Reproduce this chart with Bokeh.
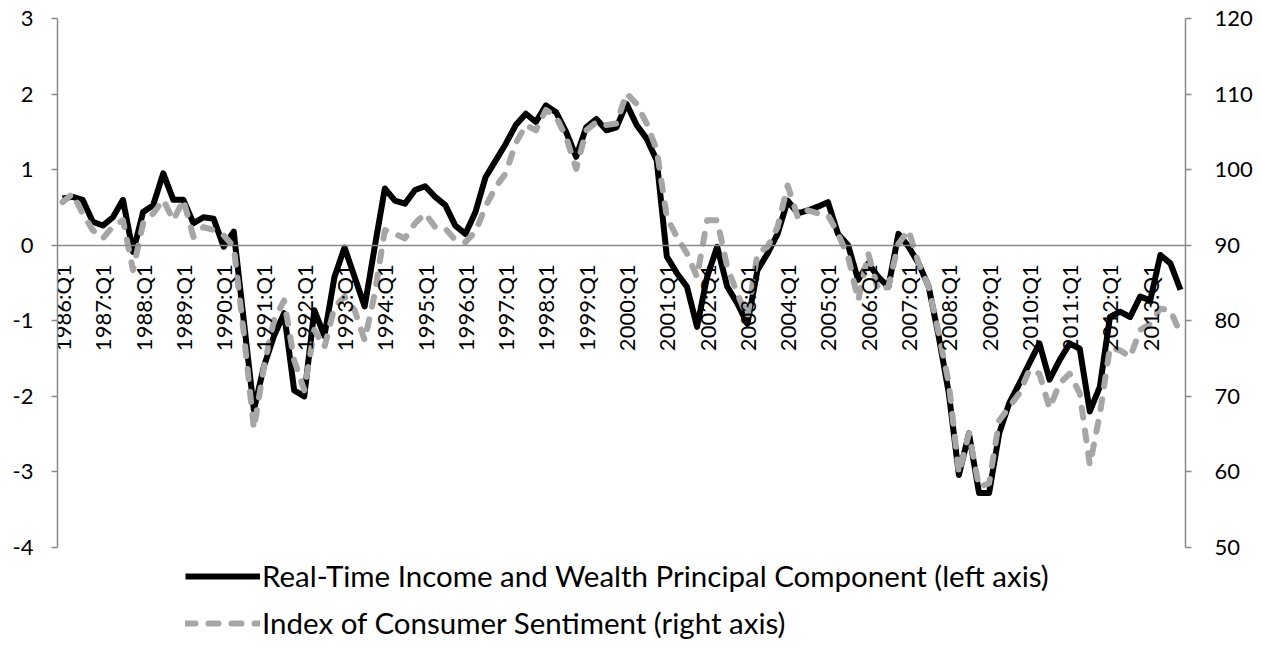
from math import pi
from bokeh.plotting import figure
from bokeh.models import Range1d, LinearAxis, FixedTicker, Legend, LegendItem
from bokeh.embed import file_html
from bokeh.resources import INLINE

years = list(range(1986, 2014))
quarters = [f"{y}:Q{q}" for y in years for q in range(1, 5)]

income_wealth_pc = [
    0.62, 0.64, 0.60, 0.31, 0.26, 0.37, 0.60, -0.09,
    0.44, 0.53, 0.95, 0.60, 0.60, 0.29, 0.37, 0.35,
    -0.02, 0.18, -1.00, -2.18, -1.60, -1.20, -0.90, -1.92,
    -2.00, -0.86, -1.20, -0.42, -0.03, -0.42, -0.81, -0.02,
    0.75, 0.59, 0.55, 0.73, 0.78, 0.64, 0.53, 0.26,
    0.15, 0.44, 0.90, 1.12, 1.34, 1.59, 1.74, 1.63,
    1.85, 1.76, 1.50, 1.17, 1.56, 1.67, 1.52, 1.56,
    1.87, 1.59, 1.41, 1.12, -0.15, -0.37, -0.55, -1.08,
    -0.42, -0.02, -0.55, -0.77, -1.04, -0.33, -0.11, 0.15,
    0.59, 0.42, 0.46, 0.51, 0.57, 0.15, 0.00, -0.46,
    -0.24, -0.42, -0.55, 0.15, -0.02, -0.24, -0.55, -1.21,
    -1.96, -3.04, -2.49, -3.28, -3.28, -2.49, -2.09, -1.83,
    -1.56, -1.30, -1.78, -1.52, -1.30, -1.37, -2.20, -1.87,
    -0.95, -0.88, -0.95, -0.68, -0.73, -0.13, -0.24, -0.59,
]

consumer_sentiment = [
    95.7, 96.8, 94.2, 92.0, 90.9, 92.5, 93.3, 86.7,
    92.9, 94.2, 96.0, 93.3, 96.0, 91.1, 92.4, 92.0,
    91.3, 89.8, 78.3, 65.7, 73.9, 80.1, 82.7, 74.8,
    70.8, 78.8, 76.5, 81.8, 83.2, 81.4, 77.4, 83.6,
    92.0, 91.5, 90.9, 92.9, 94.2, 92.4, 92.2, 90.7,
    90.4, 91.8, 95.1, 97.7, 99.5, 103.5, 105.9, 105.2,
    107.9, 107.0, 104.3, 100.1, 105.2, 106.3, 105.9, 106.1,
    110.1, 108.7, 106.1, 102.6, 93.7, 91.1, 88.9, 85.8,
    93.3, 93.3, 87.1, 83.6, 80.5, 88.9, 89.8, 92.4,
    97.9, 93.7, 94.6, 94.2, 94.0, 91.5, 88.5, 82.7,
    88.9, 84.0, 84.5, 90.2, 92.0, 87.6, 84.5, 78.3,
    71.7, 59.8, 65.1, 58.0, 58.5, 66.8, 68.6, 70.4,
    73.5, 73.0, 68.4, 71.7, 73.0, 70.4, 60.9, 67.7,
    76.5, 76.1, 75.2, 78.8, 79.6, 81.6, 81.4, 78.3,
]

series_labels = [
    "Real-Time Income and Wealth Principal Component (left axis)",
    "Index of Consumer Sentiment (right axis)",
]

left_ticks = [-4, -3, -2, -1, 0, 1, 2, 3]
left_tick_labels = ["-4", "-3", "-2", "-1", "0", "1", "2", "3"]
right_ticks = [50, 60, 70, 80, 90, 100, 110, 120]

FONT = "Lato"
AXIS_GRAY = "#8a8a8a"

W, H = 1262, 646
TOP, AXIS_BOTTOM = 18, 547          # pixel rows of the axis ends
LEFT, RIGHT = 57, 1185

# the frame runs down to the bottom of the figure so the legend can sit
# inside it; the axes themselves are bounded to their tick range
span_px = AXIS_BOTTOM - TOP
extra_px = H - AXIS_BOTTOM
l_lo, l_hi = left_ticks[0], left_ticks[-1]
r_lo, r_hi = right_ticks[0], right_ticks[-1]
l_extra = (l_hi - l_lo) * extra_px / span_px
r_extra = (r_hi - r_lo) * extra_px / span_px

x = list(range(len(quarters)))

p = figure(
    width=W, height=H,
    x_range=Range1d(-0.5, len(quarters) - 0.5),
    y_range=Range1d(l_lo - l_extra, l_hi),
    output_backend="svg", toolbar_location=None,
    x_axis_location=None,
    min_border_left=LEFT, min_border_right=W - RIGHT,
    min_border_top=TOP, min_border_bottom=0,
)
p.extra_y_ranges = {"right": Range1d(r_lo - r_extra, r_hi)}
p.grid.visible = False
p.outline_line_color = None
p.background_fill_color = "white"

ya = p.yaxis[0]
ya.ticker = FixedTicker(ticks=left_ticks)
ya.major_label_overrides = dict(zip(left_ticks, left_tick_labels))
ya.bounds = (l_lo, l_hi)
ya.major_label_standoff = 18

ra = LinearAxis(y_range_name="right", ticker=FixedTicker(ticks=right_ticks), bounds=(r_lo, r_hi))
ra.major_label_standoff = 23
p.add_layout(ra, "right")

for ax in [ya, ra]:
    ax.axis_line_color = AXIS_GRAY
    ax.axis_line_width = 1.5
    ax.major_tick_line_color = AXIS_GRAY
    ax.major_tick_line_width = 1.5
    ax.major_tick_out = 6
    ax.major_tick_in = 0
    ax.minor_tick_line_color = None
    ax.major_label_text_font = FONT
    ax.major_label_text_font_size = "22px"
    ax.major_label_text_color = "black"

# category axis crossing at zero
q1_ticks = [i for i, q in enumerate(quarters) if q.endswith("Q1")]
xa = LinearAxis(
    fixed_location=0,
    ticker=FixedTicker(ticks=q1_ticks),
    major_label_overrides={i: quarters[i] for i in q1_ticks},
    major_label_orientation=pi / 2,
)
xa.axis_line_color = AXIS_GRAY
xa.axis_line_width = 1.5
xa.major_tick_line_color = None
xa.minor_tick_line_color = None
xa.major_tick_out = 0
xa.major_tick_in = 0
xa.major_label_standoff = 19
xa.major_label_text_font = FONT
xa.major_label_text_font_size = "22px"
xa.major_label_text_color = "black"
p.add_layout(xa, "below")

r1 = p.line(x, income_wealth_pc, line_color="black", line_width=6, line_join="round")
r2 = p.line(x, consumer_sentiment, line_color="#a6a6a6", line_width=6,
            line_dash="10 13", line_cap="round", line_join="round", y_range_name="right")

legend = Legend(
    items=[LegendItem(label=series_labels[0], renderers=[r1]),
           LegendItem(label=series_labels[1], renderers=[r2])],
    location=(185 - LEFT, 6),
    orientation="vertical",
    padding=0, margin=0,
    border_line_color=None, background_fill_alpha=0,
    glyph_width=75, glyph_height=30, label_height=30,
    spacing=12, label_standoff=2,
    label_text_font=FONT, label_text_font_size="29.5px", label_text_color="black",
)
p.add_layout(legend, "center")

open("out.html", "w").write(file_html(p, INLINE))
